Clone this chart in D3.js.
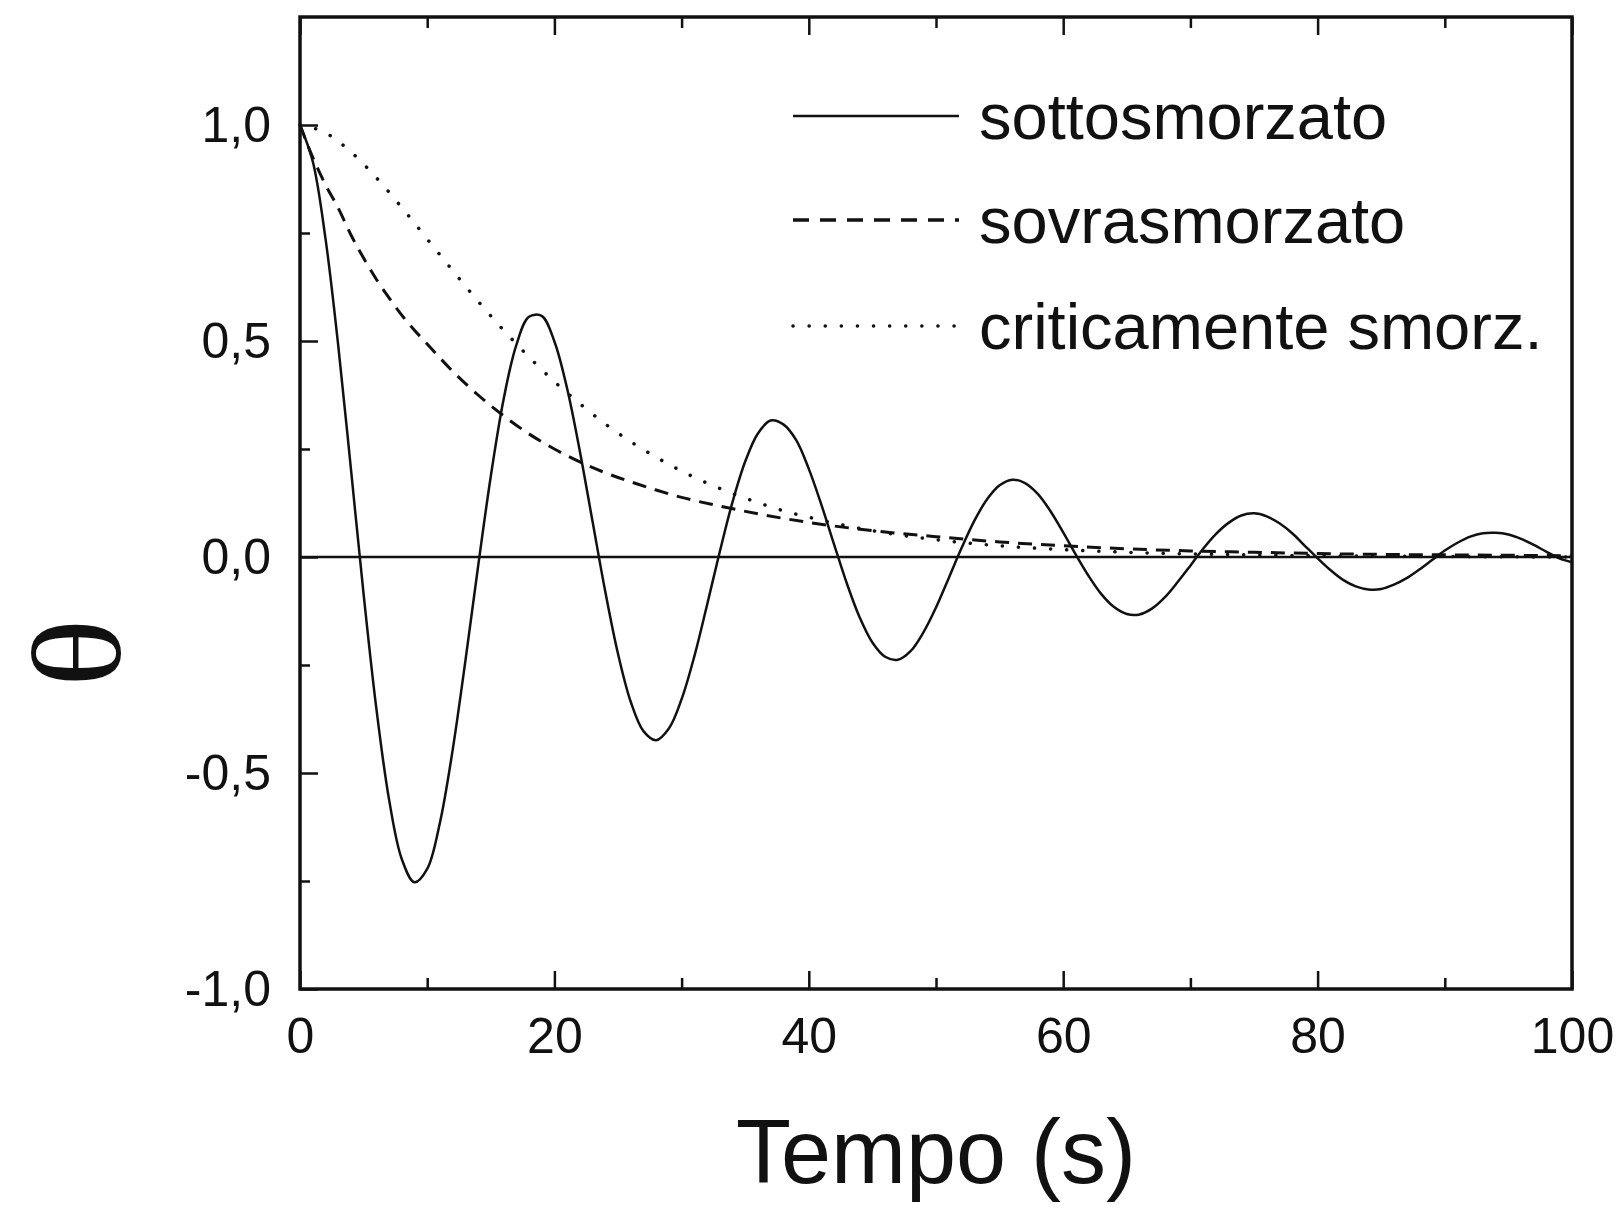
<!DOCTYPE html>
<html>
<head>
<meta charset="utf-8">
<script src="https://cdn.jsdelivr.net/npm/d3@7"></script>
<style>
  html, body { margin: 0; padding: 0; background: #fff; }
  svg text { font-family: "Liberation Sans", Arial, Helvetica, sans-serif; fill: #111; }
</style>
</head>
<body>
<svg id="chart" width="1620" height="1209"></svg>
<script>
// ---- data ----
const underTimes = d3.range(0, 101); // 0..100 s, 1 s step
const underValues = [
  1.000, 0.916, 0.738, 0.491, 0.205, -0.086, -0.350, -0.561, -0.699, -0.753,
  -0.722, -0.615, -0.447, -0.241, -0.022, 0.187, 0.364, 0.490, 0.556, 0.558,
  0.499, 0.390, 0.245, 0.082, -0.080, -0.224, -0.335, -0.403, -0.424, -0.397,
  -0.329, -0.230, -0.111, 0.012, 0.127, 0.221, 0.286, 0.316, 0.307, 0.271,
  0.204, 0.120, 0.028, -0.062, -0.140, -0.198, -0.231, -0.238, -0.218, -0.175,
  -0.117, -0.049, 0.020, 0.083, 0.133, 0.166, 0.179, 0.171, 0.146, 0.106,
  0.057, 0.005, -0.044, -0.086, -0.116, -0.132, -0.133, -0.119, -0.093, -0.058,
  -0.020, 0.019, 0.053, 0.079, 0.096, 0.101, 0.094, 0.078, 0.055, 0.026,
  -0.003, -0.030, -0.053, -0.068, -0.075, -0.074, -0.064, -0.049, -0.029, -0.007,
  0.015, 0.033, 0.047, 0.055, 0.056, 0.052, 0.042, 0.028, 0.012, -0.003,
  -0.012
];
const overTimes  = [0,1,2,3,4,5,6,7,8,9,10,12,14,16,18,20,22,24,26,28,30,33,36,40,45,50,55,60,65,70,75,80,85,90,95,100];
const overValues = [1.000,0.925,0.862,0.808,0.746,0.692,0.643,0.600,0.560,0.525,0.493,0.430,0.375,0.327,0.285,0.250,0.220,0.195,0.174,0.155,0.138,0.118,0.100,0.080,0.061,0.047,0.035,0.026,0.019,0.014,0.011,0.008,0.006,0.005,0.004,0.003];
const critTimes  = [0,2,4,6,8,10,12,14,16,18,20,22,24,26,28,30,32,34,36,38,40,43,46,50,55,60,65,70,75,80,90,100];
const critValues = [1.000,0.982,0.938,0.878,0.809,0.736,0.663,0.592,0.525,0.463,0.406,0.355,0.308,0.267,0.231,0.199,0.171,0.147,0.126,0.107,0.092,0.072,0.056,0.040,0.026,0.017,0.011,0.007,0.005,0.003,0.001,0.000];

const xMajorTicks = [0, 20, 40, 60, 80, 100];
const xMinorTicks = [10, 30, 50, 70, 90];
const yMajorTicks = [-1.0, -0.5, 0.0, 0.5, 1.0];
const yMinorTicks = [-0.75, -0.25, 0.25, 0.75];
const yTickLabels = ["-1,0", "-0,5", "0,0", "0,5", "1,0"];
const legendLabels = ["sottosmorzato", "sovrasmorzato", "criticamente smorz."];
const xTitle = "Tempo (s)";
const yTitle = "\u03B8";

// ---- layout ----
const svg = d3.select("#chart");
const L = 300, R = 1572, T = 17, B = 989;
const x = d3.scaleLinear().domain([0, 100]).range([L, R]);
const y = d3.scaleLinear().domain([-1, 1.25]).range([B, T]);
const ink = "#111";

// axes: ticks pointing inward
const gx = svg.append("g").attr("transform", `translate(0,${B})`);
gx.call(d3.axisBottom(x).tickValues(xMajorTicks).tickSize(-18).tickPadding(28).tickFormat(d3.format("d")));
const gxm = svg.append("g").attr("transform", `translate(0,${B})`);
gxm.call(d3.axisBottom(x).tickValues(xMinorTicks).tickSize(-11).tickFormat(""));
const gxt = svg.append("g").attr("transform", `translate(0,${T})`);
gxt.call(d3.axisTop(x).tickValues(xMajorTicks).tickSize(-18).tickFormat(""));
const gxtm = svg.append("g").attr("transform", `translate(0,${T})`);
gxtm.call(d3.axisTop(x).tickValues(xMinorTicks).tickSize(-11).tickFormat(""));

const gy = svg.append("g").attr("transform", `translate(${L},0)`);
gy.call(d3.axisLeft(y).tickValues(yMajorTicks).tickSize(-18).tickPadding(29)
  .tickFormat(d => yTickLabels[yMajorTicks.indexOf(d)]));
const gym = svg.append("g").attr("transform", `translate(${L},0)`);
gym.call(d3.axisLeft(y).tickValues(yMinorTicks).tickSize(-10).tickFormat(""));

svg.selectAll(".domain").remove();
svg.selectAll(".tick line").attr("stroke", ink).attr("stroke-width", 2.5);
svg.selectAll(".tick text").attr("font-size", 50).attr("fill", ink)
  .style("font-family", "'Liberation Sans', Arial, sans-serif");

// frame
svg.append("rect").attr("x", L).attr("y", T).attr("width", R - L).attr("height", B - T)
  .attr("fill", "none").attr("stroke", ink).attr("stroke-width", 3.5);

// zero line
svg.append("line").attr("x1", x(0)).attr("x2", x(100)).attr("y1", y(0)).attr("y2", y(0))
  .attr("stroke", ink).attr("stroke-width", 2.5);

// curves
const lineCR = d3.line().x(d => x(d[0])).y(d => y(d[1])).curve(d3.curveCatmullRom.alpha(0.5));
const lineMono = d3.line().x(d => x(d[0])).y(d => y(d[1])).curve(d3.curveMonotoneX);

svg.append("path").datum(critTimes.map((t, i) => [t, critValues[i]]))
  .attr("d", lineMono).attr("fill", "none").attr("stroke", ink)
  .attr("stroke-width", 3.5).attr("stroke-linecap", "round").attr("stroke-dasharray", "0.1,16");
svg.append("path").datum(overTimes.map((t, i) => [t, overValues[i]]))
  .attr("d", lineMono).attr("fill", "none").attr("stroke", ink)
  .attr("stroke-width", 3).attr("stroke-dasharray", "14,9");
svg.append("path").datum(underTimes.map((t, i) => [t, underValues[i]]))
  .attr("d", lineCR).attr("fill", "none").attr("stroke", ink).attr("stroke-width", 2.5);

// legend
const legY = [116, 220, 326];
const dashes = [null, "16,11", "0.1,16"];
const widths = [2.5, 3.5, 3.5];
legendLabels.forEach((lab, i) => {
  svg.append("line").attr("x1", 793).attr("x2", 959).attr("y1", legY[i]).attr("y2", legY[i])
    .attr("stroke", ink).attr("stroke-width", widths[i])
    .attr("stroke-dasharray", dashes[i]).attr("stroke-linecap", i === 2 ? "round" : "butt");
  svg.append("text").attr("x", 979).attr("y", legY[i] + 23).attr("font-size", 65).text(lab);
});

// axis titles
svg.append("text").attr("x", (L + R) / 2).attr("y", 1183).attr("text-anchor", "middle")
  .attr("font-size", 90).text(xTitle);
svg.append("text")
  .attr("transform", "translate(76,653) rotate(-90) scale(1.12,1)")
  .attr("text-anchor", "middle").attr("dy", "0.34em")
  .attr("font-size", 128)
  .style("font-family", "'Liberation Serif', 'Times New Roman', serif")
  .text(yTitle);
</script>
</body>
</html>
